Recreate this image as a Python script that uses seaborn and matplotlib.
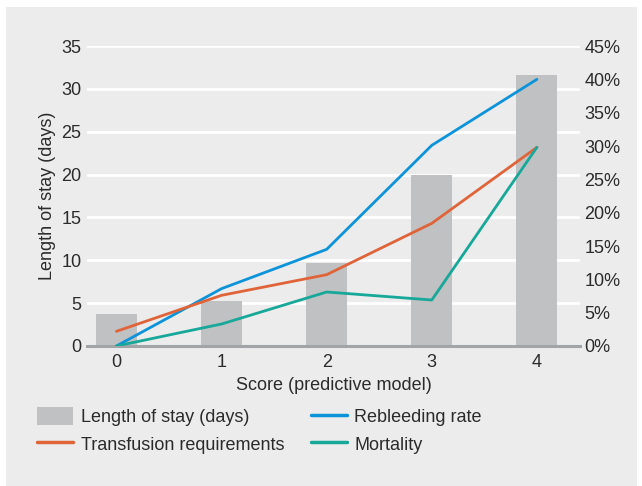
import matplotlib
matplotlib.use("Agg")
import matplotlib.pyplot as plt
import seaborn as sns
import pandas as pd
from matplotlib.patches import Rectangle, Patch
from matplotlib.lines import Line2D
from matplotlib.ticker import FuncFormatter

# ---- data ----
scores = [0, 1, 2, 3, 4]
length_of_stay = [3.7, 5.3, 9.7, 20.0, 31.6]          # days (left axis)
rebleeding_rate = [0.0, 8.6, 14.5, 30.1, 40.0]        # % (right axis)
transfusion_req = [2.2, 7.6, 10.7, 18.4, 29.8]        # %
mortality = [0.0, 3.3, 8.1, 6.9, 29.8]                # %
left_ticks = [0, 5, 10, 15, 20, 25, 30, 35]
right_ticks = [0, 5, 10, 15, 20, 25, 30, 35, 40, 45]
x_label = "Score (predictive model)"
y_label = "Length of stay (days)"
series_names = ["Length of stay (days)", "Rebleeding rate",
                "Transfusion requirements", "Mortality"]

# ---- style ----
PANEL = "#ebeceb"
BAR = "#c0c1c2"
BLUE = "#0d93d9"
ORANGE = "#e0643a"
TEAL = "#17a89a"
TXT = "#2b2b2b"

sns.set_style("white")
plt.rcParams["font.family"] = ["Liberation Sans", "DejaVu Sans"]
plt.rcParams["font.size"] = 13

fig = plt.figure(figsize=(6.42, 4.86), dpi=100, facecolor="white")
fig.patches.append(Rectangle((6 / 642, 0), (637 - 6) / 642, 1 - 7 / 486,
                             transform=fig.transFigure, facecolor=PANEL,
                             edgecolor="none", zorder=-5))

L, R, T, B = 87, 580, 46, 346
ax = fig.add_axes([L / 642, 1 - B / 486, (R - L) / 642, (B - T) / 486])
ax.set_facecolor("none")

df_bar = pd.DataFrame({"score": scores, "los": length_of_stay})
sns.barplot(data=df_bar, x="score", y="los", ax=ax, color=BAR,
            width=0.39, saturation=1, edgecolor="none", linewidth=0,
            zorder=2)

ax.set_ylim(0, 35)
ax.set_yticks(left_ticks)
ax.yaxis.grid(True, color="white", linewidth=2.0, zorder=0)
ax.set_axisbelow(True)
for s in ["top", "right", "left"]:
    ax.spines[s].set_visible(False)
ax.spines["bottom"].set_color("#a2a5a8")
ax.spines["bottom"].set_linewidth(2.2)
ax.spines["bottom"].set_zorder(5)
ax.tick_params(axis="both", length=0, colors=TXT, labelsize=13)
ax.tick_params(axis="y", pad=4)
ax.tick_params(axis="x", pad=6)
ax.set_xlabel(x_label, color=TXT, fontsize=13, labelpad=4)
ax.set_ylabel(y_label, color=TXT, fontsize=13, labelpad=4)

ax2 = ax.twinx()
df_lines = pd.DataFrame({
    "score": scores * 3,
    "value": rebleeding_rate + transfusion_req + mortality,
    "series": (["Rebleeding rate"] * 5 + ["Transfusion requirements"] * 5
               + ["Mortality"] * 5),
})
sns.lineplot(data=df_lines, x="score", y="value", hue="series",
             palette={"Rebleeding rate": BLUE,
                      "Transfusion requirements": ORANGE,
                      "Mortality": TEAL},
             linewidth=2.0, ax=ax2, legend=False, zorder=3)
ax2.set_ylim(0, 45)
ax2.set_yticks(right_ticks)
ax2.yaxis.set_major_formatter(FuncFormatter(lambda v, p: f"{v:.0f}%"))
for s in ["top", "right", "left", "bottom"]:
    ax2.spines[s].set_visible(False)
ax2.tick_params(axis="y", length=0, colors=TXT, labelsize=13, pad=3)
ax2.set_ylabel("")
ax2.set_xlabel("")
ax.set_xlim(-0.28, 4.41)
ax2.set_xlim(-0.28, 4.41)

handles = [
    Patch(facecolor=BAR, edgecolor="none"),
    Line2D([], [], color=ORANGE, linewidth=2.5),
    Line2D([], [], color=BLUE, linewidth=2.5),
    Line2D([], [], color=TEAL, linewidth=2.5),
]
labels = [series_names[0], series_names[2], series_names[1], series_names[3]]
leg = fig.legend(handles, labels, ncol=2, loc="upper left",
                 bbox_to_anchor=(30 / 642, 1 - 400 / 486), frameon=False,
                 fontsize=13, handlelength=2.0, handleheight=1.1,
                 handletextpad=0.4, columnspacing=1.5, labelspacing=0.5,
                 borderaxespad=0)
for t in leg.get_texts():
    t.set_color(TXT)

fig.savefig("out.png", dpi=100, facecolor="white")
